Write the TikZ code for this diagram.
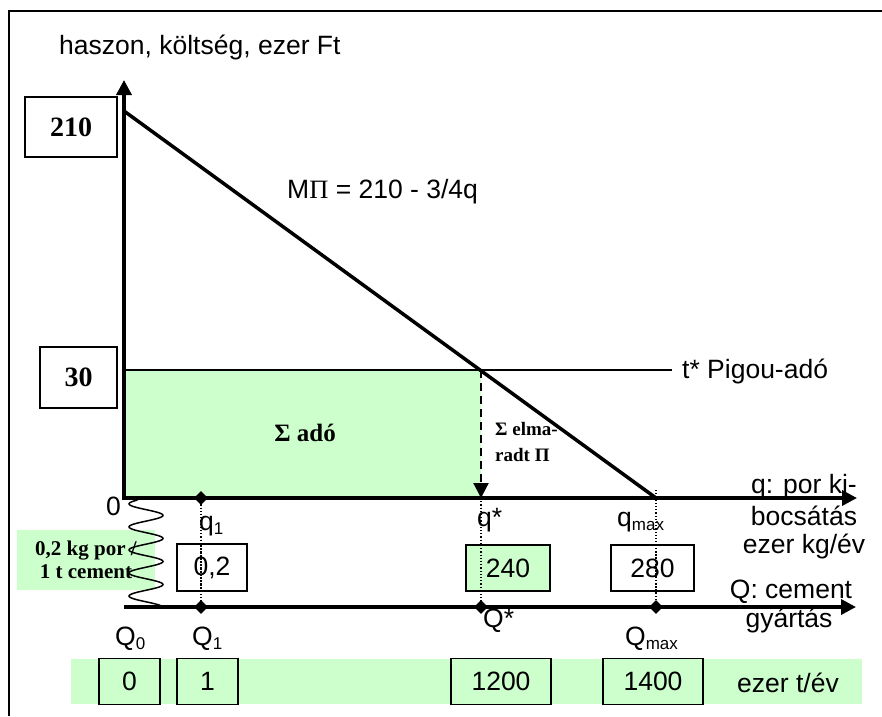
\documentclass[tikz,border=0pt]{standalone}
\usepackage{fontspec}
\setmainfont{Liberation Sans}
\newfontfamily\serifbf{Liberation Serif}
\usetikzlibrary{arrows.meta,shapes.geometric}
\definecolor{lgreen}{HTML}{CCFFCC}
\newcommand\lsub[1]{\raisebox{-0.35ex}{\fontsize{17}{17}\selectfont #1}}
\begin{document}
\begin{tikzpicture}[x=1pt,y=-1pt,
  txt/.style={font=\fontsize{26.5}{30}\selectfont, inner sep=0pt},
  bser/.style={font=\serifbf\bfseries\fontsize{#1}{#1}\selectfont, inner sep=0pt},
  valbox/.style={draw, line width=1.6pt, inner sep=0pt, font=\fontsize{26.5}{30}\selectfont},
  axisline/.style={line width=3.5pt, -{Triangle[length=15pt,width=15pt]}},
  dia/.style={diamond, fill=black, inner sep=0pt, minimum size=14pt},
  dotline/.style={dotted, line width=1.2pt}
]
\useasboundingbox (0,0) rectangle (882,716);
% frame
\draw[line width=2pt] (9,716) -- (9,11) -- (882,11);

% coordinates
\coordinate (O) at (124,498);
\coordinate (ytop) at (124,80);
\coordinate (xend) at (857,498);
\coordinate (Q0) at (124,607);
\coordinate (Qend) at (856,607);
\coordinate (A) at (124,111);
\coordinate (qmax) at (656,498);
\coordinate (T) at (124,370);
\coordinate (Tend) at (672,370);
\coordinate (S) at (481,370);
\coordinate (qs) at (481,498);

% green areas
\fill[lgreen] (124,370) rectangle (481,498);
\fill[lgreen] (71,659) rectangle (862,704);

% lines
\draw[line width=2pt] (T) -- (Tend);
\draw[line width=3.5pt] (A) -- (qmax);
\draw[line width=2.2pt, dash pattern=on 8pt off 5pt, -{Triangle[length=15pt,width=15pt]}] (S) -- (qs);

% dotted drops
\draw[dotline] (201,498) -- (201,607);
\draw[dotline] (481,498) -- (481,607);
\draw[dotline] (656,490) -- (656,607);

% axes
\draw[line width=3.5pt, line cap=rect] (124,498) -- (124,90);
\draw[axisline] (124,498) -- (ytop);
\draw[axisline] (O) -- (xend);
\draw[axisline] (Q0) -- (Qend);

% diamonds
\node[dia] (d1) at (201,498) {};
\node[dia] (d2) at (201,607) {};
\node[dia] (d3) at (481,607) {};
\node[dia] (d4) at (656,607) {};

% axis titles
\node[txt, anchor=base west] (ytitle) at (59,54) {haszon, költség, ezer Ft};
\node[txt, anchor=base west] (mpi) at (287,198) {M{\serifbf Π} = 210 - 3/4q};
\node[txt, anchor=base west] (pigou) at (682,378) {t* Pigou-adó};

% value boxes left
\node[valbox, bser=28, draw, line width=1.6pt, minimum width=92pt, minimum height=60pt] (b210) at (71,127) {210};
\node[valbox, bser=28, draw, line width=1.6pt, minimum width=77pt, minimum height=61pt] (b30) at (78.5,377.5) {30};

% area labels
\node[bser=25] (sado) at (305,433) {Σ adó};
\node[bser=19, anchor=base west] (elma1) at (495,435) {Σ elma-};
\node[bser=19, anchor=base west] (elma2) at (495,461) {radt Π};

% q axis labels
\node[txt, anchor=base west] (zero) at (106,515) {0};
\node[txt, anchor=base west] (q1) at (199,530) {q\lsub{1}};
\node[txt, anchor=base west] (qstar) at (477,526) {q*};
\node[txt, anchor=base west] (qmaxl) at (617,526) {q\lsub{max}};
\node[txt, anchor=base] (qt1) at (804,493) {q: por ki-};
\node[txt, anchor=base] (qt2) at (804,525) {bocsátás};
\node[txt, anchor=base] (qt3) at (804,553) {ezer kg/év};

% q value boxes
\node[valbox, minimum width=70pt, minimum height=47pt] (b02) at (212,567.5) {0,2};
\node[valbox, fill=lgreen, minimum width=84pt, minimum height=46pt] (b240) at (508,568) {240};
\node[valbox, minimum width=83pt, minimum height=46pt] (b280) at (652.5,568) {280};
% redraw dotted lines over boxes
\draw[dotline] (201,545) -- (201,591);
\draw[dotline] (481,545) -- (481,591);
\draw[dotline] (656,545) -- (656,591);

% conversion note
\node[fill=lgreen, minimum width=138pt, minimum height=60pt, inner sep=0pt, align=center,
      font=\serifbf\bfseries\fontsize{21}{23}\selectfont] (note) at (86,560) {0,2 kg por /\\1 t cement};
% snake
\draw[line width=1.5pt] plot[smooth, domain=0:1, samples=120] ({146+17*sin(360*4.6*\x-150)}, {500+106*\x});

% Q axis labels
\node[txt, anchor=base] (Qt1) at (791,598) {Q: cement};
\node[txt, anchor=base] (Qt2) at (789,627) {gyártás};
\node[txt, anchor=base west] (Q0l) at (115,645) {Q\lsub{0}};
\node[txt, anchor=base west] (Q1l) at (192,645) {Q\lsub{1}};
\node[txt, anchor=base west] (Qsl) at (483,627) {Q*};
\node[txt, anchor=base west] (Qml) at (625,645) {Q\lsub{max}};

% bottom value boxes
\node[valbox, minimum width=61pt, minimum height=46pt] (c0) at (129.5,681.5) {0};
\node[valbox, minimum width=61pt, minimum height=46pt] (c1) at (207.5,681.5) {1};
\node[valbox, minimum width=100pt, minimum height=46pt] (c1200) at (501,681.5) {1200};
\node[valbox, minimum width=100pt, minimum height=46pt] (c1400) at (653,681.5) {1400};
\node[txt, anchor=base west] (unit) at (737,692) {ezer t/év};
\end{tikzpicture}
\end{document}
